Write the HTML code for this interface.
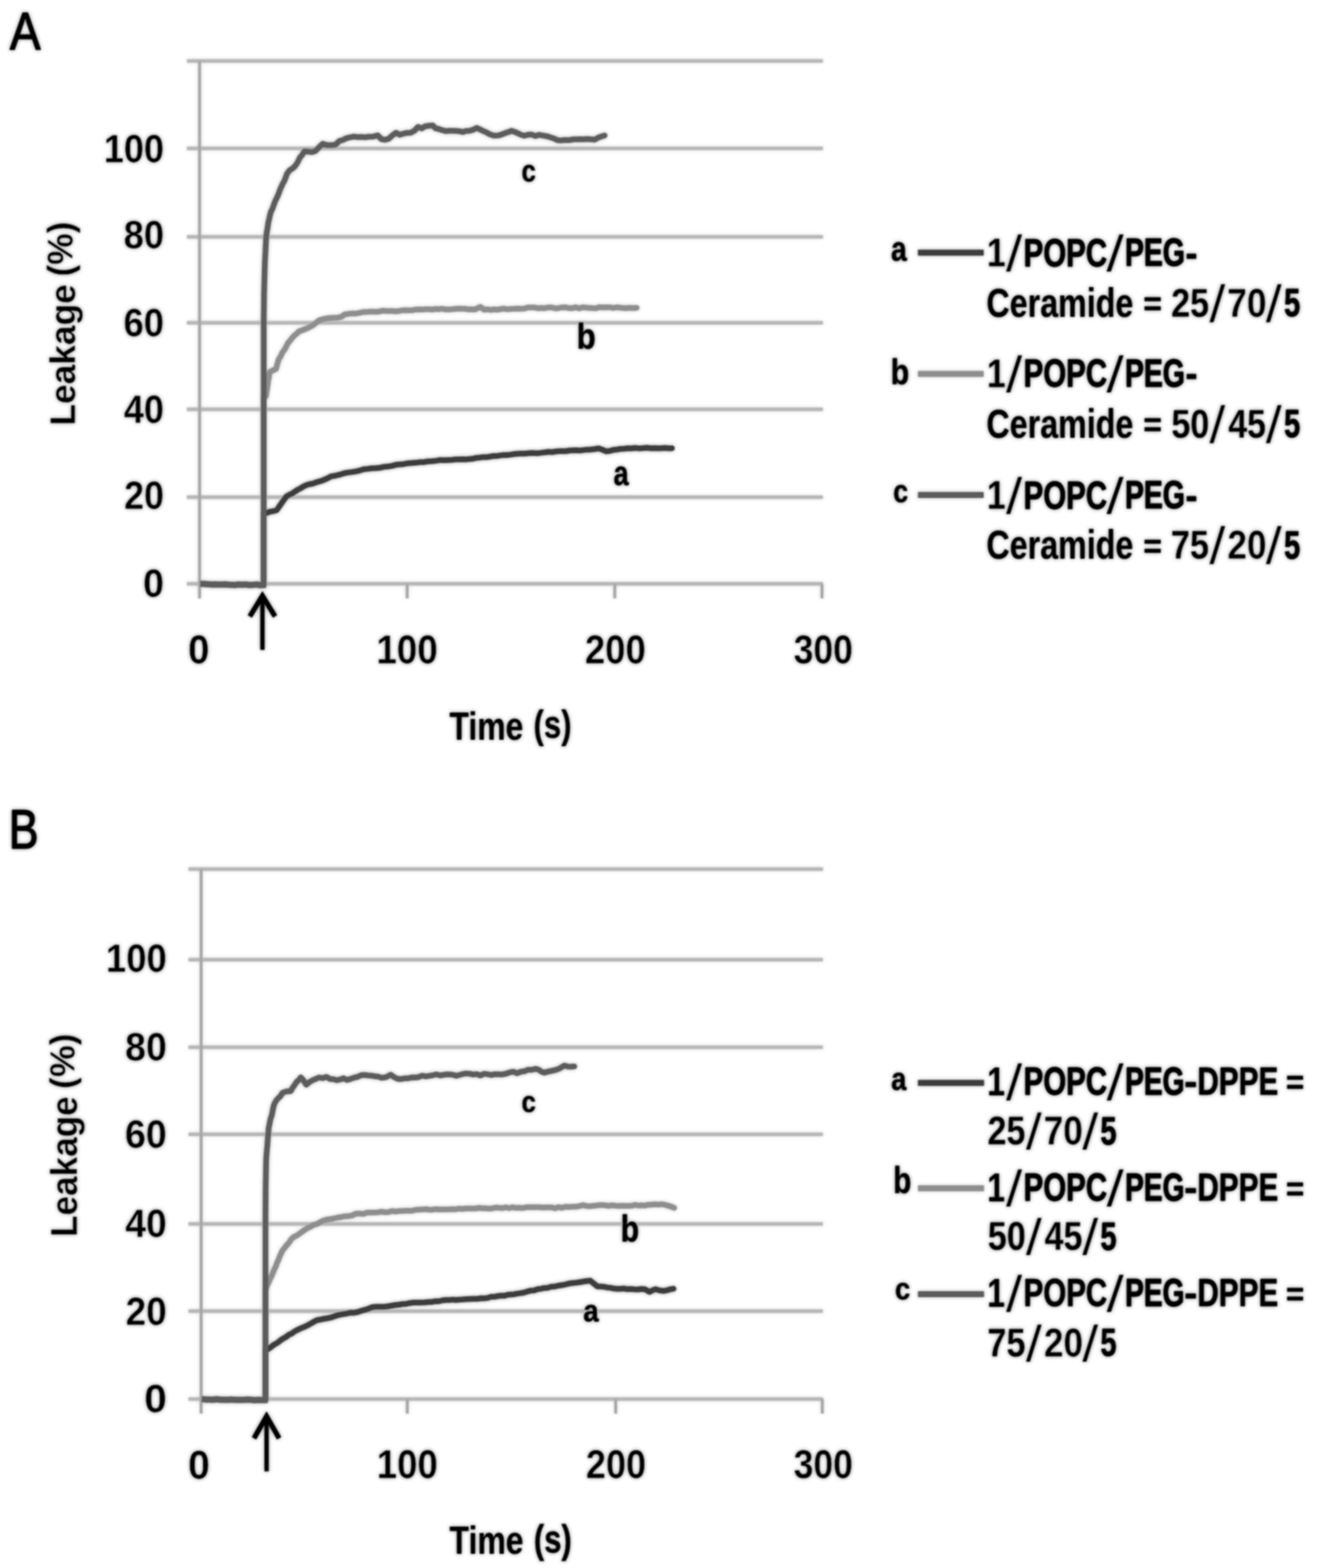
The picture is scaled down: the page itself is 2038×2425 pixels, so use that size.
<!DOCTYPE html>
<html lang="en">
<head>
<meta charset="utf-8">
<title>Leakage (%) versus Time (s)</title>
<style>
html,body{margin:0;padding:0;background:#fff;}
body{width:2038px;height:2425px;overflow:hidden;}
svg{display:block;}
svg text{font-family:"Liberation Sans",sans-serif;font-weight:bold;fill:#000;stroke:#000;stroke-linejoin:round;white-space:pre;}
</style>
</head>
<body>
<svg width="2038" height="2425" viewBox="0 0 2038 2425">
<defs>
<filter id="soft" filterUnits="userSpaceOnUse" x="0" y="0" width="2038" height="2425" color-interpolation-filters="sRGB">
<feGaussianBlur in="SourceGraphic" stdDeviation="3.0" result="h0"/>
<feComponentTransfer in="h0" result="h1"><feFuncA type="linear" slope="0.5"/></feComponentTransfer>
<feGaussianBlur in="SourceGraphic" stdDeviation="1.0" result="c0"/>
<feMerge><feMergeNode in="h1"/><feMergeNode in="c0"/></feMerge>
</filter>
</defs>
<rect x="0" y="0" width="2038" height="2425" fill="#fff"/>
<g filter="url(#soft)">
<g id="panel-a">
<rect x="289" y="900.15" width="983.5" height="5.5" fill="#b7b7b7"/>
<rect x="289" y="766.15" width="983.5" height="5.5" fill="#b7b7b7"/>
<rect x="289" y="630.25" width="983.5" height="5.5" fill="#b7b7b7"/>
<rect x="289" y="496.45" width="983.5" height="5.5" fill="#b7b7b7"/>
<rect x="289" y="363.55" width="983.5" height="5.5" fill="#b7b7b7"/>
<rect x="289" y="226.75" width="983.5" height="5.5" fill="#b7b7b7"/>
<rect x="289" y="91.55" width="983.5" height="5.5" fill="#b7b7b7"/>
<rect x="306.4" y="94.3" width="4.4" height="831.1" fill="#a6a6a6"/>
<rect x="627.4" y="902.9" width="4.4" height="22.5" fill="#a6a6a6"/>
<rect x="948.4" y="902.9" width="4.4" height="22.5" fill="#a6a6a6"/>
<rect x="1268.8" y="902.9" width="4.4" height="22.5" fill="#a6a6a6"/>
<polyline points="407.8,904.4 407.8,612.6 411.2,612.6 412.0,606.9 412.8,602.0 413.6,596.9 414.4,590.7 415.2,586.2 416.0,581.9 416.8,575.8 421.8,572.9 426.8,570.6 428.9,562.9 431.0,555.5 433.8,551.5 436.7,545.0 439.5,541.4 442.4,536.3 445.2,530.5 448.6,526.8 452.0,522.2 455.4,518.7 458.8,516.2 462.2,512.5 469.3,510.1 476.4,507.0 480.6,505.0 484.9,502.3 489.1,498.9 493.4,495.3 500.5,493.4 507.6,491.9 514.7,491.4 521.7,491.2 527.4,490.2 533.1,486.3 538.8,485.4 544.4,484.7 550.1,484.9 555.7,483.9 561.4,482.6 566.4,482.6 571.5,481.9 576.5,482.0 581.6,482.2 586.6,481.8 591.7,480.4 596.7,481.0 601.8,481.1 606.8,481.1 611.9,481.4 617.1,480.9 622.2,479.9 627.4,479.7 632.5,480.1 637.7,479.8 642.8,478.7 648.0,478.6 653.1,478.7 658.3,478.2 663.4,478.3 668.5,478.7 673.5,477.8 678.6,478.2 683.7,477.4 688.7,478.6 693.8,478.4 698.8,478.2 703.9,477.7 709.0,477.2 714.0,477.5 719.1,477.5 724.2,478.5 729.2,478.2 734.3,478.7 742.8,474.6 748.5,478.9 753.7,478.4 758.8,479.3 764.0,478.5 769.1,479.0 774.3,478.0 779.4,477.3 784.6,478.4 789.7,477.8 794.9,477.6 800.0,477.2 805.2,477.4 810.5,477.2 815.9,475.6 821.2,475.5 826.6,475.4 831.9,476.8 837.3,476.3 842.6,476.7 847.9,475.4 853.3,475.5 858.6,476.9 864.0,476.4 869.3,475.4 874.7,475.3 880.0,476.6 885.2,476.7 890.5,475.2 895.7,477.0 900.9,475.2 906.1,475.8 911.4,476.2 916.6,476.6 921.8,476.8 927.0,475.0 932.2,475.5 937.5,475.3 942.7,475.2 947.9,476.3 953.1,475.3 958.4,475.8 963.6,476.4 968.8,476.6 974.0,476.1 979.3,476.4 984.5,476.0" fill="none" stroke="#8e8e8e" stroke-width="8.5" stroke-linejoin="round" stroke-linecap="round"/>
<polyline points="407.8,904.4 407.8,793.3 412.5,793.3 417.7,791.3 422.9,790.3 428.1,788.8 431.1,784.2 434.1,780.0 437.0,775.8 440.0,771.6 443.0,767.6 447.4,765.1 451.7,763.3 456.1,760.1 460.5,757.3 464.8,755.2 469.2,752.4 474.2,750.0 479.2,748.7 484.2,747.8 490.8,745.3 497.3,743.6 502.3,741.5 507.3,739.3 512.3,736.6 518.5,735.7 524.8,734.2 531.0,732.2 537.2,730.9 543.5,730.1 549.7,729.1 555.9,727.8 562.2,725.8 568.4,725.1 574.6,724.2 580.9,724.1 587.1,723.5 593.3,722.1 599.6,721.5 605.8,720.6 612.0,718.8 618.3,718.2 624.5,717.7 630.7,716.4 637.0,716.0 643.2,715.6 649.4,714.8 655.7,714.7 661.9,713.5 668.1,713.3 674.4,712.6 680.6,711.4 686.8,711.8 693.1,711.5 699.3,711.2 704.5,710.4 709.6,710.6 714.8,710.2 720.0,710.6 725.3,709.9 730.7,709.6 736.0,708.2 741.4,707.7 746.7,706.9 752.1,707.1 757.4,706.2 762.7,705.2 768.1,705.3 773.4,704.4 778.8,703.8 784.1,703.7 789.5,703.1 794.8,702.3 800.2,701.8 805.5,701.6 810.9,701.4 816.2,700.9 821.6,700.6 826.9,700.7 832.3,700.9 837.6,700.1 843.0,699.5 848.3,698.7 853.7,699.2 859.0,698.2 864.4,697.8 869.7,697.8 875.0,697.7 880.4,696.7 885.7,696.4 891.1,696.3 896.4,696.8 901.8,696.1 907.1,695.4 913.3,695.3 919.6,694.5 925.8,693.5 931.4,695.5 937.0,697.9 942.6,697.4 948.3,695.8 953.9,695.3 959.5,694.3 965.1,693.9 970.7,693.3 976.3,693.5 981.9,692.7 988.1,693.4 994.4,693.1 1000.6,692.5 1006.1,693.2 1011.6,693.1 1017.1,693.3 1022.5,693.3 1028.0,692.8 1033.5,693.2 1039.0,693.3" fill="none" stroke="#3c3c3c" stroke-width="8.5" stroke-linejoin="round" stroke-linecap="round"/>
<polyline points="407.8,904.4 407.8,500.0 407.8,500.0 408.3,455.0 409.6,405.0 409.9,400.9 410.2,393.3 410.5,389.2 410.8,381.5 411.1,376.6 411.4,370.2 411.7,365.6 412.6,358.7 413.4,354.7 414.2,349.1 415.1,342.9 415.9,340.5 416.8,335.7 418.9,327.3 421.1,323.4 423.2,317.4 425.4,311.3 427.9,306.2 430.4,300.8 432.8,293.8 435.3,288.4 437.4,283.6 439.6,280.0 441.7,274.5 443.8,268.6 448.0,263.2 452.3,260.6 456.5,256.6 460.1,251.3 463.6,243.8 467.1,239.7 470.7,234.0 476.4,234.4 482.0,235.3 487.7,233.6 491.5,229.7 495.2,225.8 499.0,222.4 505.6,224.4 512.3,224.4 518.9,223.7 524.6,218.0 530.2,216.5 535.9,213.6 541.6,212.3 547.2,211.2 552.9,212.1 558.6,211.8 564.2,212.3 570.8,211.6 577.4,211.2 584.0,209.3 589.7,215.3 595.4,216.3 601.1,214.6 606.7,209.4 612.4,205.2 618.1,208.5 623.7,206.7 629.4,205.5 635.1,205.3 640.7,202.2 646.4,196.2 652.1,198.7 657.8,195.2 663.4,194.6 669.1,194.1 673.8,198.6 678.6,199.5 683.3,201.2 689.0,202.7 694.6,202.2 700.3,202.3 705.4,202.4 710.5,203.0 715.6,204.2 720.7,202.4 725.8,202.3 731.5,200.7 737.1,197.8 742.1,200.1 747.0,202.5 752.0,204.6 757.0,207.5 763.6,209.8 770.2,209.6 776.8,207.7 781.5,205.6 786.3,204.2 791.0,202.3 796.0,204.0 800.9,206.1 805.8,208.5 810.8,210.0 816.5,208.3 822.2,208.1 827.8,210.4 833.5,208.5 839.2,209.6 847.0,211.0 852.0,212.7 856.9,214.2 861.8,216.7 866.8,217.2 873.4,216.5 880.1,216.7 886.7,215.5 891.8,215.5 896.9,215.2 902.0,215.4 907.1,214.9 912.2,215.3 919.3,216.0 926.4,212.2 934.9,209.5" fill="none" stroke="#5c5c5c" stroke-width="8.5" stroke-linejoin="round" stroke-linecap="round"/>
<polyline points="309.6,902.9 315.4,903.0 321.2,903.4 327.0,904.0 332.8,903.7 338.6,903.9 343.6,904.1 348.6,903.7 353.6,904.2 358.6,904.4 363.6,904.7 368.6,903.9 374.2,904.2 379.8,903.9 385.4,904.8 391.0,904.6 396.6,903.9 402.2,905.0 411.3,904.4" fill="none" stroke="#5c5c5c" stroke-width="9.5" stroke-linejoin="round" stroke-linecap="butt"/>
<path d="M405.8 1005.0 L405.8 922.1" fill="none" stroke="#000" stroke-width="6.5"/>
<path d="M388.3 950.0 L405.8 921.6 L423.3 950.0" fill="none" stroke="#000" stroke-width="7.6" stroke-linejoin="miter" stroke-miterlimit="10" stroke-linecap="square"/>
<line x1="1419.5" y1="390.7" x2="1521" y2="390.7" stroke="#3c3c3c" stroke-width="9" stroke-linecap="butt"/>
<line x1="1419.5" y1="578.3" x2="1521" y2="578.3" stroke="#8e8e8e" stroke-width="9" stroke-linecap="butt"/>
<line x1="1419.5" y1="765.6" x2="1521" y2="765.6" stroke="#5c5c5c" stroke-width="9" stroke-linecap="butt"/>
<text><tspan x="15.21" y="76.49" font-size="81.28" stroke-width="1.63" font-weight="normal" textLength="47.42" lengthAdjust="spacingAndGlyphs">A</tspan></text>
<text><tspan x="160.49" y="251.39" font-size="62.00" stroke-width="0.62" stroke="#fff" textLength="93.11" lengthAdjust="spacingAndGlyphs">100</tspan></text>
<text><tspan x="191.34" y="384.19" font-size="62.00" stroke-width="0.62" stroke="#fff" textLength="62.20" lengthAdjust="spacingAndGlyphs">80</tspan></text>
<text><tspan x="191.05" y="520.19" font-size="61.86" stroke-width="0.62" stroke="#fff" textLength="62.51" lengthAdjust="spacingAndGlyphs">60</tspan></text>
<text><tspan x="191.59" y="653.59" font-size="61.57" stroke-width="0.62" stroke="#fff" textLength="61.95" lengthAdjust="spacingAndGlyphs">40</tspan></text>
<text><tspan x="191.99" y="787.30" font-size="60.71" stroke-width="0.61" stroke="#fff" textLength="61.53" lengthAdjust="spacingAndGlyphs">20</tspan></text>
<text><tspan x="221.29" y="922.79" font-size="61.86" stroke-width="0.62" stroke="#fff" textLength="32.29" lengthAdjust="spacingAndGlyphs">0</tspan></text>
<text><tspan x="290.72" y="1025.99" font-size="62.29" stroke-width="0.62" stroke="#fff" textLength="33.13" lengthAdjust="spacingAndGlyphs">0</tspan></text>
<text><tspan x="581.91" y="1025.79" font-size="62.71" stroke-width="0.63" stroke="#fff" textLength="95.16" lengthAdjust="spacingAndGlyphs">100</tspan></text>
<text><tspan x="904.44" y="1025.79" font-size="62.71" stroke-width="0.63" stroke="#fff" textLength="94.09" lengthAdjust="spacingAndGlyphs">200</tspan></text>
<text><tspan x="1227.15" y="1025.79" font-size="62.71" stroke-width="0.63" stroke="#fff" textLength="91.61" lengthAdjust="spacingAndGlyphs">300</tspan></text>
<text><tspan x="695.11" y="1143.50" font-size="60.44" stroke-width="0.00" textLength="127.86" lengthAdjust="spacingAndGlyphs">Time </tspan><tspan x="825.00" y="1140.97" font-size="60.64" stroke-width="0.00" textLength="58.71" lengthAdjust="spacingAndGlyphs">(s)</tspan></text>
<text><tspan x="806.61" y="281.39" font-size="47.50" stroke-width="0.48" textLength="22.02" lengthAdjust="spacingAndGlyphs">c</tspan></text>
<text><tspan x="891.72" y="539.46" font-size="56.24" stroke-width="0.56" textLength="29.30" lengthAdjust="spacingAndGlyphs">b</tspan></text>
<text><tspan x="948.76" y="750.43" font-size="51.07" stroke-width="0.51" textLength="23.17" lengthAdjust="spacingAndGlyphs">a</tspan></text>
<text transform="translate(115.40 654.40) rotate(-90)"><tspan x="-3.82" y="0.28" font-size="55.59" stroke-width="0.56" stroke="#fff" textLength="233.74" lengthAdjust="spacingAndGlyphs">Leakage </tspan><tspan x="226.80" y="-3.44" font-size="54.81" stroke-width="0.55" stroke="#fff" textLength="84.92" lengthAdjust="spacingAndGlyphs">(%)</tspan></text>
<text><tspan x="1377.71" y="402.93" font-size="51.07" stroke-width="0.51" textLength="24.31" lengthAdjust="spacingAndGlyphs">a</tspan></text>
<text><tspan x="1377.29" y="594.06" font-size="56.11" stroke-width="0.56" textLength="28.59" lengthAdjust="spacingAndGlyphs">b</tspan></text>
<text><tspan x="1381.36" y="777.16" font-size="49.11" stroke-width="0.49" textLength="22.92" lengthAdjust="spacingAndGlyphs">c</tspan></text>
<text><tspan x="1526.01" y="412.32" font-size="63.24" stroke-width="0.32" stroke="#fff" textLength="29.02" lengthAdjust="spacingAndGlyphs">1</tspan><tspan x="1554.96" y="420.30" font-size="80.28" stroke-width="0.80" font-weight="normal" stroke="#fff" textLength="26.19" lengthAdjust="spacingAndGlyphs">/</tspan><tspan x="1582.77" y="411.69" font-size="61.43" stroke-width="0.92" textLength="129.10" lengthAdjust="spacingAndGlyphs">POPC</tspan><tspan x="1710.29" y="420.30" font-size="80.28" stroke-width="0.80" font-weight="normal" stroke="#fff" textLength="28.00" lengthAdjust="spacingAndGlyphs">/</tspan><tspan x="1739.48" y="411.39" font-size="60.56" stroke-width="1.21" textLength="92.80" lengthAdjust="spacingAndGlyphs">PEG</tspan><tspan x="1833.05" y="411.55" font-size="60.77" stroke-width="0.61" textLength="18.60" lengthAdjust="spacingAndGlyphs">-</tspan></text>
<text><tspan x="1525.31" y="489.80" font-size="62.75" stroke-width="0.00" textLength="240.96" lengthAdjust="spacingAndGlyphs">Ceramide </tspan><tspan x="1767.89" y="488.49" font-size="52.05" stroke-width="0.52" textLength="42.17" lengthAdjust="spacingAndGlyphs">= </tspan><tspan x="1810.90" y="490.12" font-size="63.68" stroke-width="0.32" stroke="#fff" textLength="58.51" lengthAdjust="spacingAndGlyphs">25</tspan><tspan x="1869.58" y="498.10" font-size="80.69" stroke-width="0.81" font-weight="normal" stroke="#fff" textLength="25.65" lengthAdjust="spacingAndGlyphs">/</tspan><tspan x="1897.46" y="490.12" font-size="63.68" stroke-width="0.64" stroke="#fff" textLength="60.93" lengthAdjust="spacingAndGlyphs">70</tspan><tspan x="1956.78" y="498.10" font-size="80.69" stroke-width="0.81" font-weight="normal" stroke="#fff" textLength="25.65" lengthAdjust="spacingAndGlyphs">/</tspan><tspan x="1985.38" y="489.49" font-size="61.86" stroke-width="0.93" textLength="24.97" lengthAdjust="spacingAndGlyphs">5</tspan></text>
<text><tspan x="1526.01" y="599.12" font-size="63.24" stroke-width="0.32" stroke="#fff" textLength="29.02" lengthAdjust="spacingAndGlyphs">1</tspan><tspan x="1554.96" y="607.10" font-size="80.28" stroke-width="0.80" font-weight="normal" stroke="#fff" textLength="26.19" lengthAdjust="spacingAndGlyphs">/</tspan><tspan x="1582.77" y="598.49" font-size="61.43" stroke-width="0.92" textLength="129.10" lengthAdjust="spacingAndGlyphs">POPC</tspan><tspan x="1710.29" y="607.10" font-size="80.28" stroke-width="0.80" font-weight="normal" stroke="#fff" textLength="28.00" lengthAdjust="spacingAndGlyphs">/</tspan><tspan x="1739.48" y="598.19" font-size="60.56" stroke-width="1.21" textLength="92.80" lengthAdjust="spacingAndGlyphs">PEG</tspan><tspan x="1833.05" y="598.35" font-size="60.77" stroke-width="0.61" textLength="18.60" lengthAdjust="spacingAndGlyphs">-</tspan></text>
<text><tspan x="1525.31" y="676.50" font-size="62.75" stroke-width="0.00" textLength="240.96" lengthAdjust="spacingAndGlyphs">Ceramide </tspan><tspan x="1767.89" y="675.19" font-size="52.05" stroke-width="0.52" textLength="42.17" lengthAdjust="spacingAndGlyphs">= </tspan><tspan x="1811.15" y="676.82" font-size="63.68" stroke-width="0.32" stroke="#fff" textLength="58.79" lengthAdjust="spacingAndGlyphs">50</tspan><tspan x="1869.58" y="684.80" font-size="80.69" stroke-width="0.81" font-weight="normal" stroke="#fff" textLength="25.65" lengthAdjust="spacingAndGlyphs">/</tspan><tspan x="1899.15" y="676.82" font-size="63.68" stroke-width="0.32" stroke="#fff" textLength="58.35" lengthAdjust="spacingAndGlyphs">45</tspan><tspan x="1956.78" y="684.80" font-size="80.69" stroke-width="0.81" font-weight="normal" stroke="#fff" textLength="25.65" lengthAdjust="spacingAndGlyphs">/</tspan><tspan x="1985.38" y="676.19" font-size="61.86" stroke-width="0.93" textLength="24.97" lengthAdjust="spacingAndGlyphs">5</tspan></text>
<text><tspan x="1526.01" y="787.42" font-size="63.24" stroke-width="0.32" stroke="#fff" textLength="29.02" lengthAdjust="spacingAndGlyphs">1</tspan><tspan x="1554.96" y="795.40" font-size="80.28" stroke-width="0.80" font-weight="normal" stroke="#fff" textLength="26.19" lengthAdjust="spacingAndGlyphs">/</tspan><tspan x="1582.77" y="786.79" font-size="61.43" stroke-width="0.92" textLength="129.10" lengthAdjust="spacingAndGlyphs">POPC</tspan><tspan x="1710.29" y="795.40" font-size="80.28" stroke-width="0.80" font-weight="normal" stroke="#fff" textLength="28.00" lengthAdjust="spacingAndGlyphs">/</tspan><tspan x="1739.48" y="786.49" font-size="60.56" stroke-width="1.21" textLength="92.80" lengthAdjust="spacingAndGlyphs">PEG</tspan><tspan x="1833.05" y="786.65" font-size="60.77" stroke-width="0.61" textLength="18.60" lengthAdjust="spacingAndGlyphs">-</tspan></text>
<text><tspan x="1525.31" y="864.10" font-size="62.75" stroke-width="0.00" textLength="240.96" lengthAdjust="spacingAndGlyphs">Ceramide </tspan><tspan x="1767.89" y="862.79" font-size="52.05" stroke-width="0.52" textLength="42.17" lengthAdjust="spacingAndGlyphs">= </tspan><tspan x="1810.62" y="864.42" font-size="63.68" stroke-width="0.32" stroke="#fff" textLength="58.79" lengthAdjust="spacingAndGlyphs">75</tspan><tspan x="1869.58" y="872.40" font-size="80.69" stroke-width="0.81" font-weight="normal" stroke="#fff" textLength="25.65" lengthAdjust="spacingAndGlyphs">/</tspan><tspan x="1898.03" y="864.42" font-size="63.68" stroke-width="0.64" stroke="#fff" textLength="60.34" lengthAdjust="spacingAndGlyphs">20</tspan><tspan x="1956.78" y="872.40" font-size="80.69" stroke-width="0.81" font-weight="normal" stroke="#fff" textLength="25.65" lengthAdjust="spacingAndGlyphs">/</tspan><tspan x="1985.38" y="863.79" font-size="61.86" stroke-width="0.93" textLength="24.97" lengthAdjust="spacingAndGlyphs">5</tspan></text>
</g>
<g id="panel-b">
<rect x="291.4" y="2160.95" width="981.1" height="5.5" fill="#b7b7b7"/>
<rect x="291.4" y="2024.95" width="981.1" height="5.5" fill="#b7b7b7"/>
<rect x="291.4" y="1890.15" width="981.1" height="5.5" fill="#b7b7b7"/>
<rect x="291.4" y="1751.55" width="981.1" height="5.5" fill="#b7b7b7"/>
<rect x="291.4" y="1616.85" width="981.1" height="5.5" fill="#b7b7b7"/>
<rect x="291.4" y="1481.45" width="981.1" height="5.5" fill="#b7b7b7"/>
<rect x="291.4" y="1341.35" width="981.1" height="5.5" fill="#b7b7b7"/>
<rect x="308.8" y="1344.1" width="4.4" height="842.1" fill="#a6a6a6"/>
<rect x="627.6" y="2163.7" width="4.4" height="22.5" fill="#a6a6a6"/>
<rect x="949.8" y="2163.7" width="4.4" height="22.5" fill="#a6a6a6"/>
<rect x="1269.3" y="2163.7" width="4.4" height="22.5" fill="#a6a6a6"/>
<polyline points="410.5,2165.2 410.5,1992.7 411.2,1992.7 413.5,1986.9 415.7,1982.7 418.0,1977.2 420.2,1973.0 422.5,1967.4 424.5,1962.4 426.6,1958.3 428.6,1952.2 430.6,1948.4 432.6,1942.8 434.7,1938.4 436.7,1934.0 440.1,1929.8 443.5,1925.5 446.9,1921.9 450.3,1916.5 453.7,1913.3 458.2,1911.2 462.8,1908.2 467.3,1904.8 471.9,1901.6 476.4,1898.9 480.9,1896.8 485.4,1894.0 490.0,1893.2 494.5,1890.4 499.0,1888.0 504.7,1886.3 510.4,1885.4 516.0,1884.5 521.7,1883.0 527.4,1882.2 533.0,1881.1 538.7,1880.7 544.3,1879.9 550.0,1877.1 555.7,1876.8 561.4,1877.5 567.0,1875.4 572.7,1875.2 578.4,1875.2 584.1,1874.9 589.8,1874.0 595.4,1874.7 601.1,1874.4 606.8,1872.8 611.9,1873.8 617.1,1872.9 622.2,1872.8 627.4,1872.6 632.5,1872.4 637.7,1872.4 642.8,1871.0 648.0,1870.7 653.1,1870.4 658.3,1870.0 663.4,1870.8 668.6,1870.9 673.7,1869.9 678.9,1870.4 684.0,1870.5 689.2,1870.5 694.3,1870.3 699.5,1869.9 704.6,1870.2 709.8,1869.2 714.9,1869.7 720.1,1869.0 725.3,1869.1 730.4,1868.9 735.6,1869.0 740.7,1868.0 745.9,1868.7 751.0,1868.6 756.2,1869.2 761.3,1868.8 766.5,1867.6 771.6,1867.9 776.8,1868.5 782.0,1867.2 787.1,1868.5 792.3,1867.0 797.4,1868.1 802.6,1867.8 807.7,1868.4 812.9,1867.3 818.0,1867.1 823.2,1866.9 828.3,1867.0 833.5,1867.0 839.7,1867.6 845.9,1867.3 852.1,1867.2 858.3,1868.7 863.6,1866.8 868.9,1868.0 874.3,1866.3 879.6,1866.8 884.9,1866.3 890.2,1866.3 895.6,1865.5 900.9,1863.7 906.0,1865.1 911.0,1865.4 916.1,1865.1 921.1,1864.6 926.2,1863.8 931.2,1863.7 936.3,1864.1 941.4,1865.0 946.4,1864.0 951.5,1864.7 956.5,1865.1 961.6,1864.7 966.6,1865.0 971.7,1865.1 976.9,1864.8 982.0,1863.4 987.2,1864.4 992.3,1864.1 997.5,1864.4 1002.6,1863.2 1007.8,1862.9 1012.9,1862.6 1018.1,1863.1 1023.2,1862.4 1028.4,1863.4 1033.1,1864.7 1037.9,1866.1 1042.6,1868.0" fill="none" stroke="#8e8e8e" stroke-width="8.5" stroke-linejoin="round" stroke-linecap="round"/>
<polyline points="410.5,2165.2 410.5,2087.1 413.5,2087.1 418.9,2083.4 424.3,2079.2 428.7,2077.0 433.0,2073.5 437.4,2070.3 442.1,2067.9 446.8,2064.1 451.4,2062.2 456.1,2058.7 460.8,2056.4 465.5,2054.1 470.1,2052.3 474.8,2050.2 479.8,2047.4 484.8,2044.5 489.8,2041.8 495.4,2040.8 501.0,2039.5 506.7,2038.7 512.3,2037.5 518.5,2035.2 524.8,2033.4 531.0,2032.4 536.6,2031.4 542.2,2030.0 547.8,2030.2 553.4,2029.0 559.0,2027.1 564.6,2025.7 570.3,2023.7 575.9,2021.5 581.9,2021.1 587.9,2020.9 593.8,2020.9 599.8,2020.3 605.8,2019.2 611.4,2018.2 617.0,2017.7 622.7,2016.7 628.3,2016.4 633.9,2015.2 639.5,2014.5 645.1,2014.6 650.7,2014.6 656.3,2014.3 661.9,2013.8 667.5,2013.6 673.1,2012.4 678.8,2012.5 684.4,2011.0 690.0,2010.4 695.0,2010.6 700.0,2009.9 705.0,2010.4 710.0,2009.9 715.0,2009.7 720.0,2009.2 726.1,2008.9 732.1,2008.8 738.2,2008.8 744.3,2007.7 749.3,2007.9 754.4,2007.3 759.4,2005.6 764.5,2005.6 769.5,2004.5 774.6,2003.7 779.6,2004.1 784.7,2002.5 789.8,2002.1 794.8,2001.7 800.0,2000.6 805.2,1999.9 810.4,1999.0 815.6,1997.3 820.8,1995.9 826.0,1995.7 831.2,1993.8 836.4,1993.1 841.6,1991.9 846.8,1991.7 852.0,1990.0 857.2,1989.8 862.4,1988.5 867.6,1987.7 872.8,1986.9 878.0,1985.5 883.2,1984.4 888.4,1984.1 894.5,1983.3 900.5,1982.3 906.6,1981.3 912.7,1980.6 918.3,1985.1 923.9,1989.6 928.9,1989.8 933.9,1990.1 938.9,1991.2 943.9,1991.5 948.9,1992.8 953.9,1993.3 959.3,1993.2 964.6,1992.8 970.0,1993.7 975.4,1993.6 980.8,1994.0 986.1,1994.2 991.5,1993.5 996.9,1993.8 1004.4,1997.9 1009.0,1995.5 1013.7,1993.7 1020.2,1995.8 1026.8,1996.4 1031.7,1995.3 1036.6,1993.9 1041.5,1993.1" fill="none" stroke="#3c3c3c" stroke-width="8.5" stroke-linejoin="round" stroke-linecap="round"/>
<polyline points="410.5,2165.2 410.5,1880.0 410.5,1880.0 410.8,1835.0 411.6,1792.4 412.0,1787.1 412.4,1782.0 412.9,1775.7 413.3,1772.4 413.7,1766.4 414.1,1761.1 414.6,1754.8 415.0,1750.6 415.4,1744.9 416.6,1739.2 417.8,1732.4 419.0,1728.3 420.3,1724.7 421.5,1718.1 422.7,1712.3 423.9,1707.8 427.1,1702.0 430.3,1698.4 433.5,1695.5 436.7,1690.3 443.0,1687.9 449.4,1687.6 452.5,1682.2 455.6,1678.0 458.8,1672.9 461.9,1670.6 465.0,1666.3 469.2,1670.6 473.5,1677.6 478.2,1673.8 483.0,1670.7 487.7,1668.9 493.4,1666.4 499.0,1667.4 504.7,1665.5 510.4,1668.7 515.6,1669.0 520.8,1670.6 526.0,1669.4 531.2,1667.5 536.4,1670.2 541.6,1668.8 547.2,1666.7 552.9,1665.5 558.6,1662.8 564.2,1662.5 569.3,1663.2 574.4,1663.6 579.5,1664.5 584.6,1664.9 589.7,1666.9 596.8,1666.0 603.9,1662.1 609.6,1666.0 615.3,1668.7 620.6,1668.8 626.0,1667.7 631.3,1667.7 636.7,1666.3 642.0,1666.5 647.4,1665.7 652.7,1663.6 658.1,1664.7 663.4,1663.9 669.1,1663.0 674.8,1661.5 680.4,1663.2 686.1,1662.2 691.8,1661.5 698.9,1661.9 706.0,1663.8 713.0,1661.7 720.1,1660.2 725.8,1660.4 731.5,1661.9 737.1,1661.1 742.8,1663.3 748.5,1660.6 754.2,1661.4 759.8,1662.6 765.5,1661.2 771.1,1661.4 776.8,1661.7 782.5,1660.5 788.2,1658.4 793.8,1657.5 799.5,1659.9 805.2,1657.5 810.9,1656.8 816.5,1654.4 822.1,1654.6 827.8,1653.0 832.5,1654.1 837.3,1657.4 842.0,1659.1 847.4,1657.2 852.9,1656.2 858.3,1655.0 865.4,1652.5 872.5,1647.9 877.7,1649.4 882.9,1649.8 888.1,1649.3" fill="none" stroke="#5c5c5c" stroke-width="8.5" stroke-linejoin="round" stroke-linecap="round"/>
<polyline points="312.0,2163.7 317.8,2164.4 323.6,2164.6 329.4,2164.8 335.2,2164.0 341.0,2164.8 346.0,2164.7 351.0,2164.9 356.0,2164.5 361.0,2164.7 366.0,2165.1 371.0,2164.9 376.6,2165.1 382.3,2164.6 387.9,2164.7 393.6,2165.5 399.2,2165.1 404.9,2165.2 414.0,2165.2" fill="none" stroke="#5c5c5c" stroke-width="9.5" stroke-linejoin="round" stroke-linecap="butt"/>
<path d="M412.2 2275.5 L412.2 2190.8" fill="none" stroke="#000" stroke-width="6.5"/>
<path d="M394.7 2221.0 L412.2 2190.3 L429.7 2221.0" fill="none" stroke="#000" stroke-width="7.6" stroke-linejoin="miter" stroke-miterlimit="10" stroke-linecap="square"/>
<line x1="1419.5" y1="1674.8" x2="1521.5" y2="1674.8" stroke="#3c3c3c" stroke-width="9" stroke-linecap="butt"/>
<line x1="1419.5" y1="1837.7" x2="1521.5" y2="1837.7" stroke="#8e8e8e" stroke-width="9" stroke-linecap="butt"/>
<line x1="1419.5" y1="2001.6" x2="1521.5" y2="2001.6" stroke="#5c5c5c" stroke-width="9" stroke-linecap="butt"/>
<text><tspan x="13.57" y="1312.15" font-size="85.07" stroke-width="1.70" font-weight="normal" textLength="46.03" lengthAdjust="spacingAndGlyphs">B</tspan></text>
<text><tspan x="163.86" y="1502.59" font-size="62.00" stroke-width="0.62" stroke="#fff" textLength="93.98" lengthAdjust="spacingAndGlyphs">100</tspan></text>
<text><tspan x="193.58" y="1640.19" font-size="62.00" stroke-width="0.62" stroke="#fff" textLength="64.26" lengthAdjust="spacingAndGlyphs">80</tspan></text>
<text><tspan x="193.28" y="1775.39" font-size="61.57" stroke-width="0.62" stroke="#fff" textLength="64.57" lengthAdjust="spacingAndGlyphs">60</tspan></text>
<text><tspan x="193.85" y="1913.20" font-size="60.71" stroke-width="0.61" stroke="#fff" textLength="63.97" lengthAdjust="spacingAndGlyphs">40</tspan></text>
<text><tspan x="194.21" y="2048.69" font-size="61.86" stroke-width="0.62" stroke="#fff" textLength="63.59" lengthAdjust="spacingAndGlyphs">20</tspan></text>
<text><tspan x="223.07" y="2184.29" font-size="61.86" stroke-width="0.62" stroke="#fff" textLength="34.93" lengthAdjust="spacingAndGlyphs">0</tspan></text>
<text><tspan x="290.66" y="2286.89" font-size="62.71" stroke-width="0.63" stroke="#fff" textLength="33.85" lengthAdjust="spacingAndGlyphs">0</tspan></text>
<text><tspan x="582.53" y="2286.29" font-size="62.86" stroke-width="0.63" stroke="#fff" textLength="94.51" lengthAdjust="spacingAndGlyphs">100</tspan></text>
<text><tspan x="905.97" y="2286.29" font-size="62.86" stroke-width="0.63" stroke="#fff" textLength="93.14" lengthAdjust="spacingAndGlyphs">200</tspan></text>
<text><tspan x="1227.15" y="2286.29" font-size="62.86" stroke-width="0.63" stroke="#fff" textLength="91.61" lengthAdjust="spacingAndGlyphs">300</tspan></text>
<text><tspan x="695.11" y="2402.50" font-size="60.44" stroke-width="0.00" textLength="128.20" lengthAdjust="spacingAndGlyphs">Time </tspan><tspan x="825.44" y="2400.59" font-size="61.50" stroke-width="0.31" textLength="58.62" lengthAdjust="spacingAndGlyphs">(s)</tspan></text>
<text><tspan x="806.61" y="1720.31" font-size="46.07" stroke-width="0.46" textLength="22.02" lengthAdjust="spacingAndGlyphs">c</tspan></text>
<text><tspan x="959.82" y="1919.85" font-size="56.64" stroke-width="0.57" textLength="28.35" lengthAdjust="spacingAndGlyphs">b</tspan></text>
<text><tspan x="902.04" y="2043.87" font-size="48.57" stroke-width="0.49" textLength="23.69" lengthAdjust="spacingAndGlyphs">a</tspan></text>
<text transform="translate(118.90 1909.20) rotate(-90)"><tspan x="-3.80" y="0.29" font-size="57.79" stroke-width="0.58" stroke="#fff" textLength="232.64" lengthAdjust="spacingAndGlyphs">Leakage </tspan><tspan x="224.96" y="-4.14" font-size="53.84" stroke-width="0.54" stroke="#fff" textLength="85.89" lengthAdjust="spacingAndGlyphs">(%)</tspan></text>
<text><tspan x="1378.04" y="1685.85" font-size="49.82" stroke-width="0.50" textLength="23.59" lengthAdjust="spacingAndGlyphs">a</tspan></text>
<text><tspan x="1381.17" y="1845.34" font-size="57.58" stroke-width="0.58" textLength="27.76" lengthAdjust="spacingAndGlyphs">b</tspan></text>
<text><tspan x="1384.12" y="2009.77" font-size="48.75" stroke-width="0.49" textLength="23.48" lengthAdjust="spacingAndGlyphs">c</tspan></text>
<text><tspan x="1526.38" y="1693.70" font-size="62.32" stroke-width="0.00" textLength="27.51" lengthAdjust="spacingAndGlyphs">1</tspan><tspan x="1554.96" y="1702.00" font-size="80.28" stroke-width="0.80" font-weight="normal" stroke="#fff" textLength="26.19" lengthAdjust="spacingAndGlyphs">/</tspan><tspan x="1582.77" y="1693.39" font-size="61.43" stroke-width="0.92" textLength="129.10" lengthAdjust="spacingAndGlyphs">POPC</tspan><tspan x="1710.50" y="1702.00" font-size="80.28" stroke-width="0.80" font-weight="normal" stroke="#fff" textLength="27.68" lengthAdjust="spacingAndGlyphs">/</tspan><tspan x="1739.81" y="1693.09" font-size="60.56" stroke-width="1.21" textLength="91.74" lengthAdjust="spacingAndGlyphs">PEG</tspan><tspan x="1831.05" y="1693.25" font-size="60.77" stroke-width="0.61" textLength="20.49" lengthAdjust="spacingAndGlyphs">-</tspan><tspan x="1851.44" y="1693.39" font-size="61.43" stroke-width="0.61" textLength="137.84" lengthAdjust="spacingAndGlyphs">DPPE </tspan><tspan x="1988.61" y="1692.28" font-size="51.28" stroke-width="0.51" textLength="28.24" lengthAdjust="spacingAndGlyphs">=</tspan></text>
<text><tspan x="1527.10" y="1770.32" font-size="63.09" stroke-width="0.32" stroke="#fff" textLength="58.51" lengthAdjust="spacingAndGlyphs">25</tspan><tspan x="1585.78" y="1778.30" font-size="80.14" stroke-width="0.80" font-weight="normal" stroke="#fff" textLength="25.65" lengthAdjust="spacingAndGlyphs">/</tspan><tspan x="1613.66" y="1770.32" font-size="63.09" stroke-width="0.63" stroke="#fff" textLength="60.93" lengthAdjust="spacingAndGlyphs">70</tspan><tspan x="1672.98" y="1778.30" font-size="80.14" stroke-width="0.80" font-weight="normal" stroke="#fff" textLength="25.65" lengthAdjust="spacingAndGlyphs">/</tspan><tspan x="1701.58" y="1769.69" font-size="61.29" stroke-width="0.92" textLength="24.97" lengthAdjust="spacingAndGlyphs">5</tspan></text>
<text><tspan x="1526.38" y="1857.60" font-size="62.17" stroke-width="0.00" textLength="27.51" lengthAdjust="spacingAndGlyphs">1</tspan><tspan x="1554.96" y="1865.90" font-size="80.14" stroke-width="0.80" font-weight="normal" stroke="#fff" textLength="26.19" lengthAdjust="spacingAndGlyphs">/</tspan><tspan x="1582.77" y="1857.29" font-size="61.29" stroke-width="0.92" textLength="129.10" lengthAdjust="spacingAndGlyphs">POPC</tspan><tspan x="1710.50" y="1865.90" font-size="80.14" stroke-width="0.80" font-weight="normal" stroke="#fff" textLength="27.68" lengthAdjust="spacingAndGlyphs">/</tspan><tspan x="1739.81" y="1857.00" font-size="60.42" stroke-width="1.21" textLength="91.74" lengthAdjust="spacingAndGlyphs">PEG</tspan><tspan x="1831.05" y="1857.00" font-size="60.00" stroke-width="0.60" textLength="20.49" lengthAdjust="spacingAndGlyphs">-</tspan><tspan x="1851.44" y="1857.29" font-size="61.29" stroke-width="0.61" textLength="137.84" lengthAdjust="spacingAndGlyphs">DPPE </tspan><tspan x="1988.61" y="1856.14" font-size="51.03" stroke-width="0.51" textLength="28.24" lengthAdjust="spacingAndGlyphs">=</tspan></text>
<text><tspan x="1527.35" y="1933.42" font-size="63.09" stroke-width="0.32" stroke="#fff" textLength="58.79" lengthAdjust="spacingAndGlyphs">50</tspan><tspan x="1585.78" y="1941.40" font-size="80.14" stroke-width="0.80" font-weight="normal" stroke="#fff" textLength="25.65" lengthAdjust="spacingAndGlyphs">/</tspan><tspan x="1615.35" y="1933.42" font-size="63.09" stroke-width="0.32" stroke="#fff" textLength="58.35" lengthAdjust="spacingAndGlyphs">45</tspan><tspan x="1672.98" y="1941.40" font-size="80.14" stroke-width="0.80" font-weight="normal" stroke="#fff" textLength="25.65" lengthAdjust="spacingAndGlyphs">/</tspan><tspan x="1701.58" y="1932.79" font-size="61.29" stroke-width="0.92" textLength="24.97" lengthAdjust="spacingAndGlyphs">5</tspan></text>
<text><tspan x="1526.38" y="2020.50" font-size="62.03" stroke-width="0.00" textLength="27.51" lengthAdjust="spacingAndGlyphs">1</tspan><tspan x="1554.96" y="2028.80" font-size="80.00" stroke-width="0.80" font-weight="normal" stroke="#fff" textLength="26.19" lengthAdjust="spacingAndGlyphs">/</tspan><tspan x="1582.76" y="2020.19" font-size="61.14" stroke-width="0.61" textLength="129.33" lengthAdjust="spacingAndGlyphs">POPC</tspan><tspan x="1710.50" y="2028.80" font-size="80.00" stroke-width="0.80" font-weight="normal" stroke="#fff" textLength="27.68" lengthAdjust="spacingAndGlyphs">/</tspan><tspan x="1739.81" y="2019.90" font-size="60.28" stroke-width="1.21" textLength="91.74" lengthAdjust="spacingAndGlyphs">PEG</tspan><tspan x="1831.05" y="2019.75" font-size="59.23" stroke-width="0.59" textLength="20.49" lengthAdjust="spacingAndGlyphs">-</tspan><tspan x="1851.44" y="2020.19" font-size="61.14" stroke-width="0.61" textLength="137.84" lengthAdjust="spacingAndGlyphs">DPPE </tspan><tspan x="1988.61" y="2019.01" font-size="50.77" stroke-width="0.51" textLength="28.24" lengthAdjust="spacingAndGlyphs">=</tspan></text>
<text><tspan x="1526.82" y="2097.71" font-size="62.94" stroke-width="0.31" stroke="#fff" textLength="58.79" lengthAdjust="spacingAndGlyphs">75</tspan><tspan x="1585.78" y="2105.70" font-size="80.00" stroke-width="0.80" font-weight="normal" stroke="#fff" textLength="25.65" lengthAdjust="spacingAndGlyphs">/</tspan><tspan x="1614.23" y="2097.71" font-size="62.94" stroke-width="0.63" stroke="#fff" textLength="60.34" lengthAdjust="spacingAndGlyphs">20</tspan><tspan x="1672.98" y="2105.70" font-size="80.00" stroke-width="0.80" font-weight="normal" stroke="#fff" textLength="25.65" lengthAdjust="spacingAndGlyphs">/</tspan><tspan x="1701.58" y="2097.09" font-size="61.14" stroke-width="0.61" textLength="24.97" lengthAdjust="spacingAndGlyphs">5</tspan></text>
</g>
</g>
</svg>
</body>
</html>
